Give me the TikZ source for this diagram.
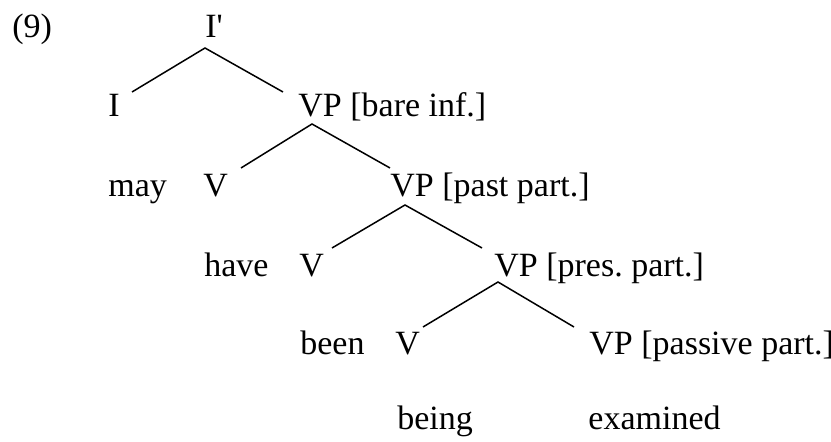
\documentclass[tikz,border=0pt]{standalone}
\usepackage{fontspec}
\setmainfont{Liberation Serif}
\usepackage{tikz}
\usetikzlibrary{calc}
\frenchspacing

\tikzset{
  lbl/.style={anchor=base west, inner sep=0pt},
  branch/.style={line width=0.75pt}
}

\begin{document}
\begin{tikzpicture}[x=0.5pt,y=-0.5pt,font=\fontsize{17}{20}\selectfont]
    \useasboundingbox (0,0) rectangle (831,442);

    % Example number
    \node[lbl] (exnum) at (12,38) {(9)};

    % Labels, row by row
    \node[lbl] (ibar) at (205,38) {I\textquotesingle};
    \node[lbl] (ihead) at (108,117) {I};
    \node[lbl] (vpbare) at (298,117) {VP [bare inf.]};
    \node[lbl] (may) at (108,197) {may};
    \node[lbl] (vmay) at (203,197) {V};
    \node[lbl] (vppast) at (390,197) {VP [past part.]};
    \node[lbl] (have) at (204,277) {have};
    \node[lbl] (vhave) at (299,277) {V};
    \node[lbl] (vppres) at (494,277) {VP [pres. part.]};
    \node[lbl] (been) at (300,355) {been};
    \node[lbl] (vbeen) at (395,355) {V};
    \node[lbl] (vppass) at (589,355) {VP [passive part.]};
    \node[lbl] (being) at (397,430) {being};
    \node[lbl] (examined) at (588,430) {examined};

    % Branches
    \draw[branch] ($(ihead.base west)+(24,-25)$) -- ($(ibar.base west)+(0,10)$)
        -- ($(vpbare.base west)+(-15,-25)$);
    \draw[branch] ($(vmay.base west)+(38,-29)$) -- ($(vpbare.base west)+(14,7)$)
        -- ($(vppast.base west)+(0,-29)$);
    \draw[branch] ($(vhave.base west)+(33,-29)$) -- ($(vppast.base west)+(15,8)$)
        -- ($(vppres.base west)+(-12,-29)$);
    \draw[branch] ($(vbeen.base west)+(28,-28)$) -- ($(vppres.base west)+(4,5)$)
        -- ($(vppass.base west)+(-15,-28)$);
\end{tikzpicture}
\end{document}
